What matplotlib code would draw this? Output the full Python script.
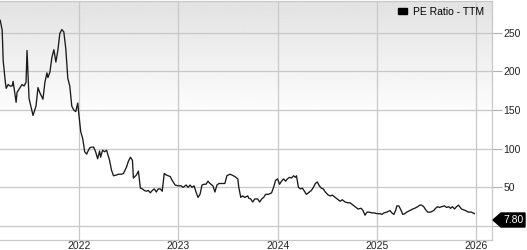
import numpy as np
import matplotlib
matplotlib.use("Agg")
import matplotlib.pyplot as plt
from matplotlib.patches import Polygon, Rectangle

# decimal-year dates and PE ratio values
years = [2021.21, 2021.23, 2021.24, 2021.26, 2021.27, 2021.29, 2021.31, 2021.33, 2021.34, 2021.37,
         2021.38, 2021.40, 2021.43, 2021.45, 2021.47, 2021.48, 2021.50, 2021.52, 2021.54, 2021.56,
         2021.57, 2021.59, 2021.61, 2021.64, 2021.66, 2021.68, 2021.69, 2021.71, 2021.73, 2021.75,
         2021.77, 2021.79, 2021.81, 2021.83, 2021.85, 2021.87, 2021.89, 2021.91, 2021.93, 2021.95,
         2021.97, 2021.99, 2022.00, 2022.02, 2022.04, 2022.06, 2022.08, 2022.09, 2022.11, 2022.13,
         2022.15, 2022.17, 2022.19, 2022.21, 2022.22, 2022.24, 2022.26, 2022.28, 2022.31, 2022.33,
         2022.35, 2022.38, 2022.40, 2022.43, 2022.45, 2022.48, 2022.50, 2022.52, 2022.54, 2022.55,
         2022.58, 2022.60, 2022.62, 2022.64, 2022.66, 2022.68, 2022.70, 2022.72, 2022.74, 2022.76,
         2022.78, 2022.80, 2022.82, 2022.84, 2022.86, 2022.88, 2022.90, 2022.92, 2022.94, 2022.97,
         2023.00, 2023.03, 2023.05, 2023.08, 2023.10, 2023.12, 2023.14, 2023.16, 2023.18, 2023.20,
         2023.22, 2023.24, 2023.26, 2023.28, 2023.30, 2023.32, 2023.35, 2023.37, 2023.39, 2023.41,
         2023.44, 2023.47, 2023.49, 2023.52, 2023.54, 2023.57, 2023.60, 2023.61, 2023.63, 2023.65,
         2023.67, 2023.70, 2023.71, 2023.73, 2023.75, 2023.77, 2023.80, 2023.82, 2023.84, 2023.86,
         2023.88, 2023.91, 2023.94, 2023.96, 2023.98, 2024.00, 2024.02, 2024.04, 2024.06, 2024.08,
         2024.10, 2024.12, 2024.14, 2024.16, 2024.18, 2024.19, 2024.21, 2024.23, 2024.25, 2024.27,
         2024.29, 2024.32, 2024.34, 2024.36, 2024.38, 2024.40, 2024.42, 2024.44, 2024.46, 2024.48,
         2024.51, 2024.53, 2024.55, 2024.58, 2024.60, 2024.63, 2024.65, 2024.68, 2024.71, 2024.73,
         2024.76, 2024.79, 2024.81, 2024.84, 2024.86, 2024.88, 2024.90, 2024.92, 2024.95, 2024.97,
         2025.00, 2025.03, 2025.05, 2025.07, 2025.10, 2025.13, 2025.15, 2025.17, 2025.19, 2025.20,
         2025.22, 2025.24, 2025.26, 2025.28, 2025.30, 2025.33, 2025.36, 2025.38, 2025.41, 2025.43,
         2025.45, 2025.47, 2025.49, 2025.51, 2025.54, 2025.57, 2025.59, 2025.61, 2025.63, 2025.65,
         2025.68, 2025.70, 2025.72, 2025.74, 2025.76, 2025.78, 2025.80, 2025.82, 2025.85, 2025.87,
         2025.89, 2025.92, 2025.95, 2025.98]
pe_ratio = [266, 253, 214, 188, 178, 183, 181, 181, 187, 160,
            173, 177, 183, 181, 186, 227, 165, 154, 143, 151,
            155, 179, 172, 164, 186, 198, 192, 199, 218, 228,
            212, 227, 249, 254, 251, 229, 191, 181, 155, 150,
            148, 159, 146, 122, 113, 96, 93, 96, 101, 102,
            102, 96, 87, 97, 89, 98, 96, 98, 85, 72,
            65, 66, 67, 67, 68, 76, 84, 89, 85, 62,
            66, 71, 49, 48, 46, 45, 46, 43, 46, 48,
            44, 48, 48, 45, 68, 66, 65, 64, 59, 53,
            52, 52, 50, 53, 50, 53, 50, 52, 44, 37,
            41, 53, 54, 54, 58, 55, 52, 44, 53, 55,
            55, 55, 65, 67, 66, 64, 61, 50, 37, 39,
            37, 39, 36, 35, 31, 35, 35, 31, 35, 37,
            41, 41, 43, 50, 59, 61, 54, 58, 61, 58,
            61, 63, 62, 65, 63, 65, 50, 48, 49, 45,
            41, 44, 46, 50, 55, 57, 52, 49, 48, 44,
            40, 39, 40, 37, 35, 32, 34, 31, 30, 30,
            27, 24, 22, 23, 20, 14, 18, 18, 17, 17,
            16, 16, 15, 17, 18, 20, 17, 15, 21, 26,
            26, 21, 15, 16, 18, 20, 22, 23, 25, 27,
            27, 25, 21, 18, 18, 20, 23, 25, 24, 25,
            26, 24, 25, 23, 25, 22, 25, 27, 22, 21,
            20, 18, 18, 16]
series_name = "PE Ratio - TTM"
current_label = "7.80"
current_value = 7.80
x_ticks = [2022, 2023, 2024, 2025, 2026]
y_ticks = [0, 50, 100, 150, 200, 250]
y_tick_labels = ["", "50", "100", "150", "200", "250"]  # "0" is hidden behind the value tag

plt.rcParams['font.family'] = ['Liberation Sans', 'DejaVu Sans']

W, H = 527, 250
fig = plt.figure(figsize=(W / 100, H / 100), dpi=100)
ax = fig.add_axes([0, 10 / H, 492 / W, 239.5 / H])

ax.set_xlim(2021.208, 2026.157)
ax.set_ylim(-18.06, 291.6)

# background gradient
grad = np.ones((256, 1))
t = np.linspace(0, 1, 256)  # 0 bottom, 1 top
grad[:, 0] = np.where(t > 0.5, 1 - (t - 0.5) / 0.5 * 0.115, 1.0)
ax.imshow(grad, extent=[0, 1, 0, 1], transform=ax.transAxes, origin='lower',
          cmap='gray', vmin=0, vmax=1, aspect='auto', zorder=0, interpolation='bilinear')

ax.plot(years, pe_ratio, color='#1a1a1a', lw=0.95, zorder=3, label=series_name)

ax.set_xticks(x_ticks)
ax.set_xticklabels([str(v) for v in x_ticks])
ax.set_yticks(y_ticks)
ax.set_yticklabels(y_tick_labels)
ax.yaxis.tick_right()
ax.tick_params(axis='y', direction='out', length=7, width=0.8, color='#b0b0b0',
               labelsize=7.5, labelcolor='#222222', pad=1)
ax.tick_params(axis='x', length=0, labelsize=7.5, labelcolor='#222222', pad=1)
ax.grid(True, color='#c8c8c8', lw=0.9, zorder=1)
ax.set_axisbelow(True)
ax.spines['left'].set_visible(False)
for side in ['right', 'bottom', 'top']:
    ax.spines[side].set_color('#c8c8c8')
    ax.spines[side].set_linewidth(0.9)

leg_handle = Rectangle((0, 0), 1, 1, fc='black', ec='black')
ax.legend([leg_handle], [series_name], loc='upper right', frameon=False,
          fontsize=7.5, handlelength=0.9, handleheight=0.45, handletextpad=0.6,
          borderaxespad=0.2, bbox_to_anchor=(0.997, 1.0))

# value tag
fig.canvas.draw()
x0, y0 = ax.transData.transform((ax.get_xlim()[1], current_value))
x0 += 1
h = 7
tag = Polygon([(x0, y0), (x0 + 8, y0 + h), (x0 + 32, y0 + h), (x0 + 32, y0 - h), (x0 + 8, y0 - h)],
              closed=True, transform=None, fc='black', ec='black', zorder=10)
fig.add_artist(tag)
fig.text((x0 + 21) / W, y0 / H, current_label, color='white', fontsize=7.5,
         ha='center', va='center', zorder=11)

fig.savefig('out.png', dpi=100)
